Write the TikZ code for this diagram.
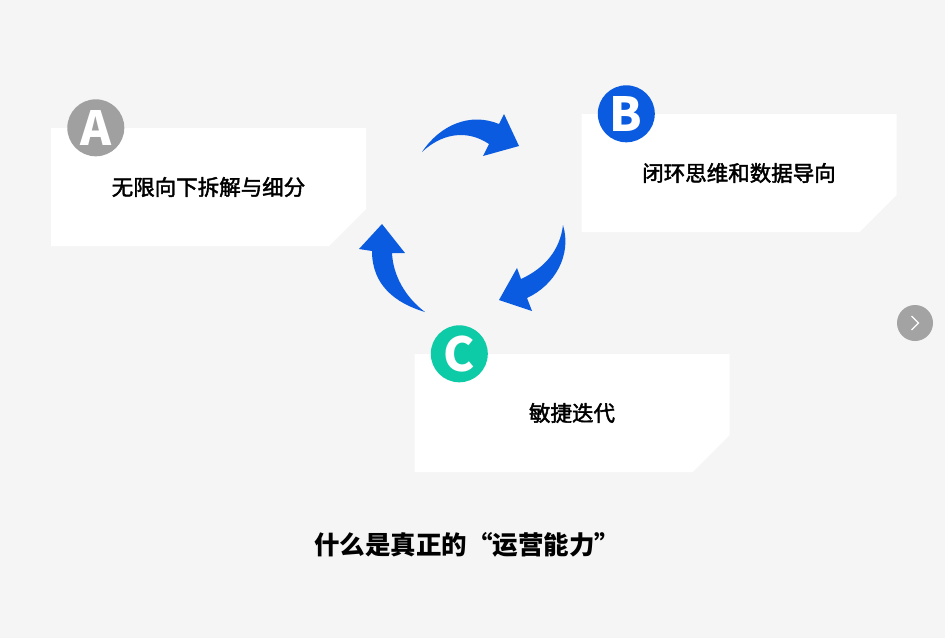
\documentclass[tikz,border=0pt]{standalone}
\usepackage{fontspec}
\setmainfont{Noto Sans CJK SC}
\newfontfamily\cjkmid[FakeBold=2]{Noto Sans CJK SC}
\usepackage{xcolor}
\usepackage{tikz}
\usetikzlibrary{positioning,shapes.misc}
\definecolor{bgray}{HTML}{F5F5F5}
\definecolor{cgray}{HTML}{9FA09F}
\definecolor{cblue}{HTML}{0B5BE0}
\definecolor{cteal}{HTML}{0ECBA8}
\definecolor{navgray}{HTML}{A3A3A3}

\begin{document}
\begin{tikzpicture}[x=1pt,y=-1pt, box/.style={chamfered rectangle,chamfered rectangle corners=south east,chamfered rectangle xsep=27pt,chamfered rectangle ysep=27pt,fill=white,inner sep=0pt,minimum width=315pt,minimum height=118pt,font=\fontsize{21.5}{25}\cjkmid}, badge/.style={circle,inner sep=0pt,minimum size=57pt,text=white,font=\fontsize{47}{47}\selectfont\bfseries}, cyc/.style={fill=cblue}]
\fill[bgray] (0,0) rectangle (945,638);
\useasboundingbox (0,0) rectangle (945,638);
\node[box] (boxA) at (208.5,187) {无限向下拆解与细分};
\node[box] (boxB) at (739,173) {闭环思维和数据导向};
\node[box] (boxC) at (572,413) {敏捷迭代};
\node[badge,fill=cgray] (ba) at ([xshift=45pt]boxA.north west) {A};
\node[badge,fill=cblue] (bb) at ([xshift=45pt]boxB.north west) {B};
\node[badge,fill=cteal] (bc) at ([xshift=45pt]boxC.north west) {C};
% curved arrows of the cycle
\fill[cyc] (422,152) .. controls (440,125) and (470,112) .. (499,124) -- (504,114) -- (519,146) -- (483,156) -- (489,144) .. controls (465,128) and (440,135) .. (422,152) -- cycle;
\fill[cyc] (563,225) .. controls (572,255) and (555,285) .. (527,298) -- (532,311) -- (499,300) -- (517,268) -- (521,279) .. controls (545,268) and (560,250) .. (563,225) -- cycle;
\fill[cyc] (425,312) .. controls (395,303) and (372,285) .. (372,251) -- (359,249) -- (382,224) -- (405,253) -- (392,253) .. controls (393,275) and (405,297) .. (425,312) -- cycle;
\node[font=\fontsize{25.5}{30}\selectfont\bfseries] (title) at (467,545) {什么是真正的“运营能力”};
\node[circle,fill=navgray,minimum size=36pt,inner sep=0pt] (nav) at (915,323) {};
\draw[white,line width=1.3pt] ([xshift=-3.5pt,yshift=7pt]nav.center) -- ([xshift=3.5pt]nav.center) -- ([xshift=-3.5pt,yshift=-7pt]nav.center);
\end{tikzpicture}
\end{document}
